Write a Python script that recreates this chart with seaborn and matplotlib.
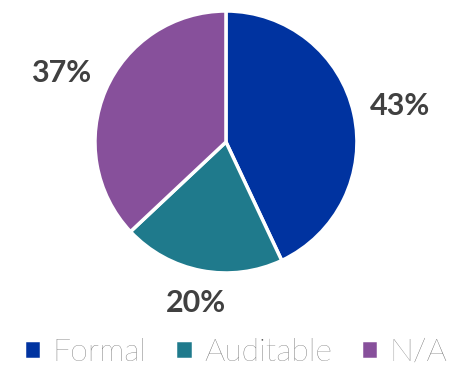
import matplotlib
matplotlib.use("Agg")
import matplotlib.pyplot as plt
import seaborn as sns
import numpy as np

sns.set_theme(style="white")
plt.rcParams['font.family'] = ['Lato', 'DejaVu Sans']

categories = ["Formal", "Auditable", "N/A"]
shares = [43, 20, 37]
colors = ["#0033A0", "#1F7A8C", "#87509B"]
label_dist = [1.36, 1.23, 1.375]

fig = plt.figure(figsize=(4.62, 3.67), dpi=100)
ax = fig.add_axes([0, 0, 1, 1])

wedges, texts, pct = ax.pie(
    shares, colors=colors, startangle=90, counterclock=False,
    autopct="%d%%", pctdistance=1.3,
    wedgeprops=dict(edgecolor="white", linewidth=2.5),
    textprops=dict(color="#404040", fontsize=22, fontweight="bold"),
)
for w, t, d in zip(wedges, pct, label_dist):
    ang = np.deg2rad((w.theta1 + w.theta2) / 2)
    t.set_position((d * np.cos(ang), d * np.sin(ang)))
    t.set_va("center_baseline")

ax.set_aspect("auto")
ax.set_xlim(-1.725, 1.802)
ax.set_ylim(-1.718, 1.084)
ax.axis("off")

leg = fig.legend(
    wedges, categories, loc="center", bbox_to_anchor=(0.51, 0.04),
    ncol=3, frameon=False, handlelength=0.55, handleheight=0.55,
    handletextpad=0.35, columnspacing=0.9,
    prop=dict(family="Lato", weight="light", size=23),
)
for t in leg.get_texts():
    t.set_color("#555555")

fig.savefig("out.png", dpi=100)
